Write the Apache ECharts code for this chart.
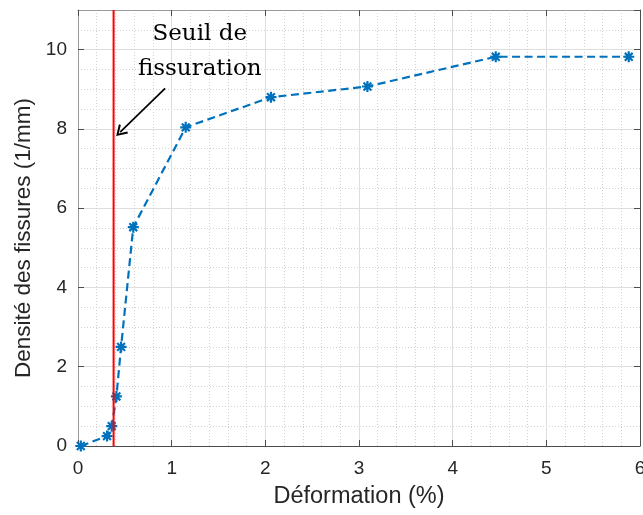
<!DOCTYPE html>
<html>
<head>
<meta charset="utf-8">
<script src="https://cdn.jsdelivr.net/npm/echarts@6/dist/echarts.min.js"></script>
<style>
html,body{margin:0;padding:0;background:#fff;}
#c{width:643px;height:515px;}
</style>
</head>
<body>
<div id="c"></div>
<script>
// Data
const deformation = [0.03, 0.31, 0.36, 0.41, 0.46, 0.59, 1.15, 2.06, 3.09, 4.46, 5.88];
const densite = [0, 0.25, 0.5, 1.25, 2.5, 5.52, 8.04, 8.8, 9.07, 9.82, 9.82];
const seuil = 0.38;
const xTicks = [0, 1, 2, 3, 4, 5, 6];
const yTicks = [0, 2, 4, 6, 8, 10];
const annotationText = ['Seuil de', 'fissuration'];
const annotationPos = [1.30, 9.96];
const arrowFrom = [0.93, 9.02];
const arrowTo = [0.45, 7.92];

const blue = '#0072BD';
const axisDark = '#4d4d4d';
const axisLight = '#9a9a9a';

const asterisk = 'path://M8,0 L12,0 L12,20 L8,20 Z M0,8 L20,8 L20,12 L0,12 Z M1.5,4.3 L4.3,1.5 L18.5,15.7 L15.7,18.5 Z M15.7,1.5 L18.5,4.3 L4.3,18.5 L1.5,15.7 Z';
const chevron = 'path://M5,0 L10,8.6 L8.6,9.4 L5,3 L1.4,9.4 L0,8.6 Z';

const chart = echarts.init(document.getElementById('c'), null, {renderer: 'canvas'});

const tickFont = {fontFamily: 'Liberation Sans', fontSize: 19, color: '#262626'};

const option = {
  backgroundColor: '#ffffff',
  animation: false,
  grid: {left: 78, right: 3, top: 10, bottom: 69, containLabel: false, outerBoundsMode: 'none'},
  xAxis: [
    {
      type: 'value', min: xTicks[0], max: xTicks[xTicks.length - 1], interval: 1,
      position: 'bottom',
      name: 'Déformation (%)', nameLocation: 'middle', nameGap: 39,
      nameTextStyle: {fontFamily: 'Liberation Sans', fontSize: 23.5, color: '#262626'},
      axisLine: {show: true, onZero: false, lineStyle: {color: axisDark, width: 1}},
      axisTick: {show: true, inside: true, length: 6, lineStyle: {color: axisDark}},
      axisLabel: Object.assign({margin: 13, showMaxLabel: true, showMinLabel: true}, tickFont),
      splitLine: {show: true, lineStyle: {color: '#dedede', width: 1}},
      minorTick: {show: false, splitNumber: 5},
      minorSplitLine: {show: true, lineStyle: {color: '#d2d2d2', width: 1, type: [1, 2]}}
    },
    {
      type: 'value', min: xTicks[0], max: xTicks[xTicks.length - 1], interval: 1,
      position: 'top',
      axisLine: {show: true, onZero: false, lineStyle: {color: axisLight, width: 1}},
      axisTick: {show: true, inside: true, length: 6, lineStyle: {color: axisDark}},
      axisLabel: {show: false},
      splitLine: {show: false}
    }
  ],
  yAxis: [
    {
      type: 'value', min: 0, max: 11, interval: 2,
      position: 'left',
      name: 'Densité des fissures (1/mm)', nameLocation: 'middle', nameGap: 36, nameRotate: 90,
      nameTextStyle: {fontFamily: 'Liberation Sans', fontSize: 22.5, color: '#262626', padding: [0, 20, 0, 0]},
      axisLine: {show: true, onZero: false, lineStyle: {color: axisLight, width: 1}},
      axisTick: {show: true, inside: true, length: 6, lineStyle: {color: axisDark}},
      axisLabel: Object.assign({margin: 11, showMaxLabel: false,
        formatter: function (v) { return yTicks.indexOf(v) >= 0 ? String(v) : ''; }}, tickFont),
      splitLine: {show: true, lineStyle: {color: '#dedede', width: 1}},
      minorTick: {show: false, splitNumber: 4},
      minorSplitLine: {show: true, lineStyle: {color: '#d2d2d2', width: 1, type: [1, 2]}}
    },
    {
      type: 'value', min: 0, max: 11, interval: 2,
      position: 'right',
      axisLine: {show: true, onZero: false, lineStyle: {color: axisDark, width: 1}},
      axisTick: {show: true, inside: true, length: 6, lineStyle: {color: axisDark}},
      axisLabel: {show: false},
      splitLine: {show: false}
    }
  ],
  series: [
    {
      type: 'line',
      xAxisIndex: 0, yAxisIndex: 0,
      data: deformation.map((x, i) => [x, densite[i]]),
      symbol: asterisk,
      symbolSize: 11,
      showAllSymbol: true,
      itemStyle: {color: blue},
      lineStyle: {color: blue, width: 2.2, type: [8, 4.5]},
      z: 3
    },
    {
      type: 'line',
      xAxisIndex: 0, yAxisIndex: 0,
      data: [[seuil, 0], [seuil, 11]],
      symbol: 'none',
      lineStyle: {color: '#ff0000', width: 2},
      z: 4
    },
    {
      type: 'line',
      xAxisIndex: 0, yAxisIndex: 0,
      data: [],
      markLine: {
        silent: true,
        symbol: ['none', chevron],
        symbolSize: [13, 11],
        label: {show: false},
        lineStyle: {color: '#000000', width: 1.7, type: 'solid'},
        data: [[{coord: arrowFrom}, {coord: arrowTo}]]
      },
      z: 5
    }
  ]
};

chart.setOption(option);

const p = chart.convertToPixel({xAxisIndex: 0, yAxisIndex: 0}, annotationPos);
chart.setOption({
  graphic: [{
    type: 'text',
    x: p[0], y: p[1],
    z: 10,
    style: {
      text: annotationText.join('\n'),
      fontFamily: 'DejaVu Serif',
      fontSize: 23,
      lineHeight: 35,
      fill: '#000000',
      align: 'center',
      verticalAlign: 'middle'
    }
  }]
});
</script>
</body>
</html>
